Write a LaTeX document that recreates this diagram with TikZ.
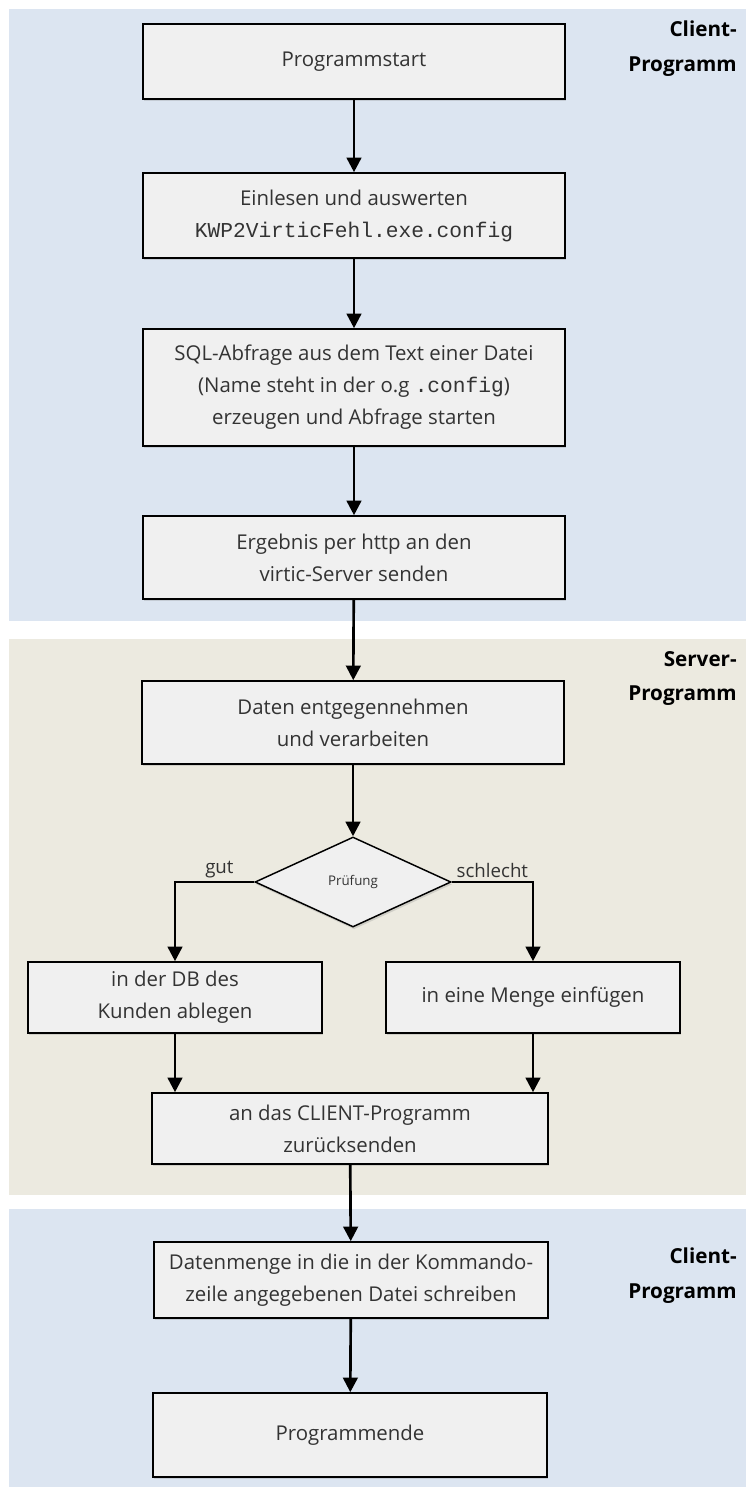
\documentclass[tikz,border=0pt]{standalone}
\usepackage{fontspec}
\setmainfont{Open Sans}
\setmonofont[Scale=1.04]{Liberation Mono}
\definecolor{clientbg}{RGB}{220,229,241}
\definecolor{serverbg}{RGB}{236,234,224}
\definecolor{kasten}{RGB}{240,240,240}
\definecolor{schrift}{RGB}{51,51,51}
\usetikzlibrary{arrows.meta,shapes.geometric,shadows}
\tikzset{
  schritt/.style={draw=black, line width=1.2pt, fill=kasten, text=schrift,
              drop shadow={shadow xshift=0.8pt, shadow yshift=-1.8pt, opacity=0.25},
              font=\fontsize{15.3}{24}\selectfont, align=center, inner sep=2pt,
              minimum width=316.5pt},
  frage/.style={diamond, draw=black, line width=1.1pt, fill=kasten, text=schrift,
              drop shadow={shadow xshift=0.8pt, shadow yshift=-1.8pt, opacity=0.25},
              font=\fontsize{10}{12}\selectfont, inner sep=0pt, aspect=2.2,
              minimum width=147pt, minimum height=67.5pt},
  pfeil/.style={-{Triangle[length=11pt,width=11pt]}, line width=2pt},
  zweig/.style={font=\fontsize{14}{16}\selectfont, text=schrift, inner sep=2pt},
  rolle/.style={font=\fontsize{15.5}{26}\selectfont\bfseries, align=right,
              anchor=north east, inner sep=0pt},
}

\begin{document}
\begin{tikzpicture}[x=0.75pt, y=-0.75pt]
    \useasboundingbox (0,0) rectangle (746,1492);
    \fill[clientbg] (9,9) rectangle (746,621);
    \fill[serverbg] (9,639) rectangle (746,1195);
    \fill[clientbg] (9,1209) rectangle (746,1487);
    \node[rolle] (client1) at (737,21) {Client-\\Programm};
    \node[rolle] (server) at (737,651) {Server-\\Programm};
    \node[rolle] (client2) at (737,1248) {Client-\\Programm};

    \node[schritt,minimum height=56.25pt] (start) at (354,61.5) {Programmstart};
    \node[schritt,minimum height=63.75pt] (config) at (354,215.5)
      {Einlesen und auswerten\\\texttt{KWP2VirticFehl.exe.config}};
    \node[schritt,minimum height=87.75pt] (sql) at (354,387.5)
      {SQL-Abfrage aus dem Text einer Datei\\(Name steht in der o.g \texttt{.config})\\erzeugen und Abfrage starten};
    \node[schritt,minimum height=62.25pt] (senden) at (354,557.5)
      {Ergebnis per http an den\\virtic-Server senden};
    \draw[pfeil] (start) -- (config);
    \draw[pfeil] (config) -- (sql);
    \draw[pfeil] (sql) -- (senden);

    \node[schritt,minimum height=62.25pt] (annahme) at (353,722.5)
      {Daten entgegennehmen\\und verarbeiten};
    \node[frage] (pruef) at (353,882) {Prüfung};
    \node[schritt,minimum width=220.5pt,minimum height=53.25pt] (kunde) at (175,997.5)
      {in der DB des\\Kunden ablegen};
    \node[schritt,minimum width=220.5pt,minimum height=53.25pt] (menge) at (533,997.5)
      {in eine Menge einfügen};
    \node[schritt,minimum width=297pt,minimum height=53.25pt] (zurueck) at (350,1128.5)
      {an das CLIENT-Programm\\zurücksenden};
    \draw[pfeil] (senden) -- (annahme);
    \draw[pfeil] (annahme) -- (pruef);
    \draw[pfeil] (pruef.west) -| node[zweig,above,pos=0.22] {gut} (kunde.north);
    \draw[pfeil] (pruef.east) -| node[zweig,above,pos=0.25] {schlecht} (menge.north);
    \draw[pfeil] (kunde.south) -- (kunde.south |- zurueck.north);
    \draw[pfeil] (menge.south) -- (menge.south |- zurueck.north);

    \node[schritt,minimum width=295.5pt,minimum height=57pt] (datei) at (351,1280)
      {Datenmenge in die in der Kommando-\\zeile angegebenen Datei schreiben};
    \node[schritt,minimum width=295.5pt,minimum height=63pt] (ende) at (350,1435)
      {Programmende};
    \draw[pfeil] (zurueck) -- (datei);
    \draw[pfeil] (datei) -- (ende);
\end{tikzpicture}
\end{document}
